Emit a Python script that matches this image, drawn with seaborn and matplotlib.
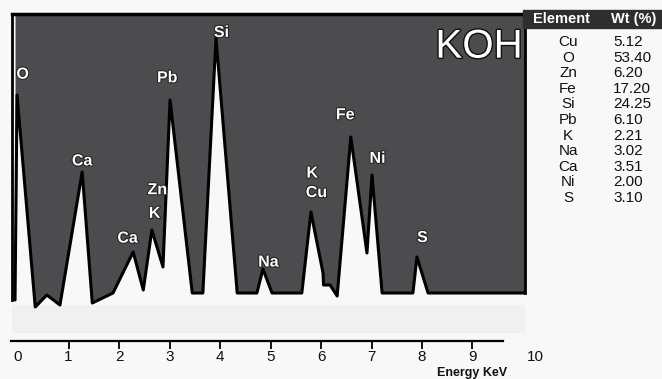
import matplotlib
matplotlib.use("Agg")
import matplotlib.pyplot as plt
import matplotlib.patches as mpatches
import matplotlib.patheffects as pe
import matplotlib.transforms as mtransforms
import seaborn as sns
import numpy as np

# ---------------- data ----------------
# EDX spectrum outline (energy keV, intensity a.u.)
energy = [-0.06, -0.02, 0.34, 0.57, 0.83, 1.27, 1.47, 1.88, 2.28, 2.48, 2.65, 2.87,
          3.01, 3.45, 3.66, 3.92, 4.34, 4.73, 4.85, 5.03, 5.62, 5.80, 6.04, 6.05,
          6.18, 6.32, 6.59, 6.91, 7.01, 7.21, 7.82, 7.90, 8.12, 10.04]
intensity = [41, 246, 34, 46, 36, 169, 38, 48, 89, 51, 111, 74,
             241, 48, 48, 303, 48, 48, 72, 48, 48, 129, 68, 56,
             56, 45, 204, 88, 166, 48, 48, 84, 48, 48]

# peak labels
peak_names = ["O", "Ca", "Ca", "K", "Zn", "Pb", "Si", "Na", "K", "Cu", "Fe", "Ni", "S"]
peak_energy = [-0.02, 1.27, 2.28, 2.65, 2.65, 3.01, 3.92, 4.85, 5.80, 5.80, 6.59, 7.01, 7.90]
peak_height = [246, 169, 89, 111, 111, 241, 303, 72, 129, 129, 204, 166, 84]

# composition table
elements = ["Cu", "O", "Zn", "Fe", "Si", "Pb", "K", "Na", "Ca", "Ni", "S"]
weights = ["5.12", "53.40", "6.20", "17.20", "24.25", "6.10", "2.21", "3.02", "3.51", "2.00", "3.10"]

x_ticks = list(range(0, 11))

# ---------------- style ----------------
sns.set_theme(style="white")
plt.rcParams["font.family"] = ["Liberation Sans", "DejaVu Sans"]

W, H = 662, 379
fig = plt.figure(figsize=(W / 100, H / 100), dpi=100)
fig.patch.set_facecolor("#f8f8f8")

def fx(px):
    return px / W

def fy(py):
    return 1 - py / H

ax = fig.add_axes([fx(12), fy(341), fx(525) - fx(12), fy(14) - fy(341)])
ax.set_facecolor("none")
ytop = 327
ax.set_xlim(-0.12, 10.04)
ax.set_ylim(0, ytop)

# faint scan band below spectrum
ax.axhspan(8, 36, color="#f0f0f0", zorder=0, lw=0)

dark = "#4c4b4d"
ax.fill_between(energy, intensity, ytop, color=dark, zorder=1, lw=0)
sns.lineplot(x=energy, y=intensity, ax=ax, color="black", lw=2.2,
             estimator=None, sort=False, zorder=2)

# spines: frame around dark area, axis line at bottom
for s in ["left", "right", "top", "bottom"]:
    ax.spines[s].set_visible(True)
    ax.spines[s].set_color("black")
ax.spines["top"].set_linewidth(2.5)
ax.spines["left"].set_linewidth(2)
ax.spines["right"].set_linewidth(2)
ax.spines["left"].set_bounds(intensity[0], ytop)
ax.spines["right"].set_bounds(intensity[-1], ytop)
ax.spines["bottom"].set_bounds(-0.14, 9.6)
ax.spines["bottom"].set_linewidth(1.6)

ax.set_yticks([])
ax.set_xticks(x_ticks)
ax.set_xticklabels([str(t) for t in x_ticks],
                   family=["Liberation Sans Narrow", "Liberation Sans", "DejaVu Sans"],
                   fontsize=11, color="#111111")
ax.tick_params(axis="x", direction="out", length=6, width=1.3, color="black", pad=0.5,
               bottom=True)
ticks = ax.xaxis.get_major_ticks()
ticks[0].tick1line.set_visible(False)
ticks[-1].tick1line.set_visible(False)
# the "10" label sits a little further right in the original
lbl10 = ticks[-1].label1
lbl10.set_transform(lbl10.get_transform() +
                    mtransforms.ScaledTranslation(12 / 100, 0, fig.dpi_scale_trans))
ax.set_xlabel("Energy KeV", fontsize=9, fontweight="bold", color="#111111")
ax.xaxis.set_label_coords((472 - 12) / 513, -0.078)
ax.grid(False)

# peak labels (offsets in points)
label_offsets = {0: (4, 15), 1: (0, 8), 2: (-4, 10), 3: (2, 12), 4: (4, 29),
                 5: (-2, 16), 6: (4, 4), 7: (4, 5), 8: (1, 28), 9: (4, 14),
                 10: (-4, 16), 11: (4, 12), 12: (4, 14)}
outline = [pe.withStroke(linewidth=1.5, foreground="#222222")]
for i, (nm, e, h) in enumerate(zip(peak_names, peak_energy, peak_height)):
    dx, dy = label_offsets[i]
    ax.annotate(nm, (e, h), xytext=(dx, dy), textcoords="offset points",
                ha="center", va="center", fontsize=11.5, fontweight="bold",
                color="white", zorder=5, path_effects=outline)

# KOH label
ax.text(0.995, 0.90, "KOH", transform=ax.transAxes, ha="right", va="center",
        fontsize=29, color="white", zorder=5,
        path_effects=[pe.withStroke(linewidth=2, foreground="#111111")])

# ---------------- composition table ----------------
fig.patches.append(mpatches.Rectangle((fx(523), fy(28)), fx(662) - fx(523), fy(10) - fy(28),
                                      transform=fig.transFigure, color="#2e2e2e", zorder=3))
fig.text(fx(561), fy(19), "Element", ha="center", va="center", fontsize=10.5,
         fontweight="bold", color="white", zorder=4)
fig.text(fx(634), fy(19), "Wt (%)", ha="center", va="center", fontsize=10.5,
         fontweight="bold", color="white", zorder=4)
for i, (el, wt) in enumerate(zip(elements, weights)):
    y = 42 + 15.6 * i
    fig.text(fx(568), fy(y), el, ha="center", va="center", fontsize=11, color="#111111")
    fig.text(fx(613), fy(y), wt, ha="left", va="center", fontsize=11, color="#111111")

fig.savefig("out.png", dpi=100, facecolor=fig.get_facecolor())
